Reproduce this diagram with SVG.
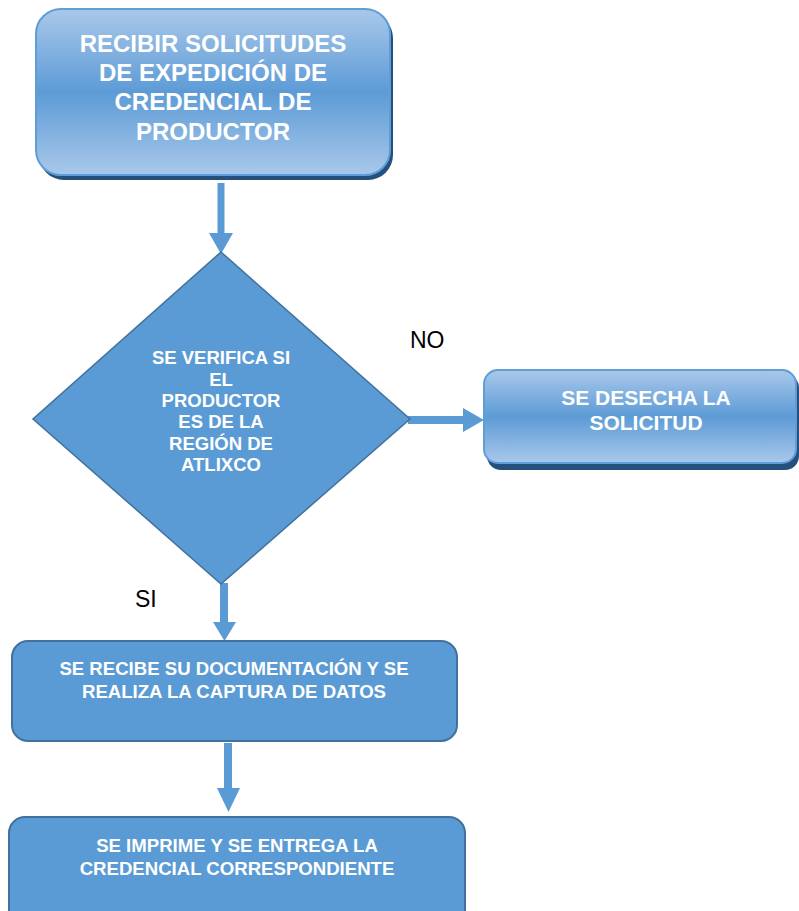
<svg xmlns="http://www.w3.org/2000/svg" width="799" height="911" viewBox="0 0 799 911">
<defs>
<linearGradient id="g" x1="0" y1="0" x2="0" y2="1">
<stop offset="0" stop-color="#A9C8EA"/>
<stop offset="0.5" stop-color="#5D9BD6"/>
<stop offset="1" stop-color="#A9C8EA"/>
</linearGradient>
<style>
.t{font-family:"Liberation Sans",Arial,sans-serif;font-weight:bold;fill:#FFFFFF;text-anchor:middle}
.l{font-family:"Liberation Sans",Arial,sans-serif;font-size:23px;fill:#000000}
.sh{fill:#25507D}
.gb{fill:url(#g);stroke:#5F9DD8;stroke-width:2}
.fb{fill:#5B9BD5;stroke:#41719C;stroke-width:2}
.ar{fill:#5B9BD5}
</style>
</defs>
<rect width="799" height="911" fill="#FFFFFF"/>
<g id="connectors">
<path class="ar" d="M217.5,183 H224.5 V233 H233 L221,254 L209,233 H217.5 Z"/>
<path class="ar" d="M408,416 H463 V408 L484,420 L463,432 V424 H408 Z"/>
<path class="ar" d="M220,583 H228 V622 H236 L224.5,641 L213,622 H220 Z"/>
<path class="ar" d="M224,743 H232 V788 H240 L228.5,812 L217,788 H224 Z"/>
</g>
<g id="n1">
<rect class="sh" x="39" y="13" width="354" height="167" rx="25"/>
<rect class="gb" x="36" y="9" width="354" height="166" rx="25"/>
<text class="t" font-size="24" x="213" y="51.7">RECIBIR SOLICITUDES</text>
<text class="t" font-size="24" x="213" y="81">DE EXPEDICIÓN DE</text>
<text class="t" font-size="24" x="213" y="110.3">CREDENCIAL DE</text>
<text class="t" font-size="24" x="213" y="139.6">PRODUCTOR</text>
</g>
<g id="n2">
<polygon points="221,252 410,419 221,584 33,419" fill="#5B9BD5" stroke="#41719C" stroke-width="1.5"/>
<text class="t" font-size="18.5" x="221" y="364">SE VERIFICA SI</text>
<text class="t" font-size="18.5" x="221" y="385.5">EL</text>
<text class="t" font-size="18.5" x="221" y="407">PRODUCTOR</text>
<text class="t" font-size="18.5" x="221" y="428.3">ES DE LA</text>
<text class="t" font-size="18.5" x="221" y="449.6">REGIÓN DE</text>
<text class="t" font-size="18.5" x="221" y="471">ATLIXCO</text>
</g>
<g id="n3">
<rect class="sh" x="487" y="374" width="312" height="96" rx="14"/>
<rect class="gb" x="484" y="370" width="312" height="93" rx="14"/>
<text class="t" font-size="21" x="646" y="405">SE DESECHA LA</text>
<text class="t" font-size="21" x="646" y="430">SOLICITUD</text>
</g>
<g id="n4">
<rect class="fb" x="12" y="641" width="445" height="100" rx="16"/>
<text class="t" font-size="18.6" x="234" y="675">SE RECIBE SU DOCUMENTACIÓN Y SE</text>
<text class="t" font-size="18.6" x="234" y="698">REALIZA LA CAPTURA DE DATOS</text>
</g>
<g id="n5">
<rect class="fb" x="9" y="817" width="456" height="110" rx="16"/>
<text class="t" font-size="18.6" x="237" y="852">SE IMPRIME Y SE ENTREGA LA</text>
<text class="t" font-size="18.6" x="237" y="875">CREDENCIAL CORRESPONDIENTE</text>
</g>
<g id="labels">
<text class="l" x="410" y="348">NO</text>
<text class="l" x="135" y="607">SI</text>
</g>
</svg>
